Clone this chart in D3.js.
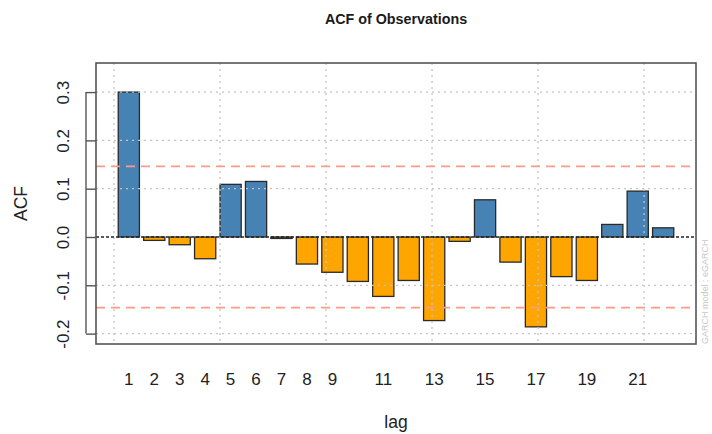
<!DOCTYPE html>
<html>
<head>
<meta charset="utf-8">
<script src="https://cdn.jsdelivr.net/npm/d3@7"></script>
<style>
  body { margin: 0; background: #fff; }
  svg { display: block; font-family: "Liberation Sans", Arial, sans-serif; }
</style>
</head>
<body>
<div id="chart"></div>
<script>
// ACF values
var lags = [1, 2, 3, 4, 5, 6, 7, 8, 9, 10, 11, 12, 13, 14, 15, 16, 17, 18, 19, 20, 21, 22];
var acfValues = [0.300, -0.007, -0.016, -0.045, 0.109, 0.115, -0.003, -0.056, -0.073, -0.092,
  -0.123, -0.090, -0.173, -0.009, 0.077, -0.052, -0.186, -0.082, -0.090, 0.026, 0.095, 0.019];
var confLimit = 0.146;
var yTicks = [-0.2, -0.1, 0.0, 0.1, 0.2, 0.3];
var xTickLabels = [1, 2, 3, 4, 5, 6, 7, 8, 9, 11, 13, 15, 17, 19, 21];
var xGrid = [0, 5, 10, 15, 20, 25];

var svgWidth = 712;
var svgHeight = 434;
var box = { left: 96, right: 696, top: 63, bottom: 344 };

var svg = d3.select("#chart")
  .append("svg")
  .attr("width", svgWidth)
  .attr("height", svgHeight);

// barplot style positions: bar k spans [0.2 + (k-1)*1.2, +1]
var barLeft = function(k) { return 0.2 + (k - 1) * 1.2; };

var xScale = d3.scaleLinear()
  .domain([-0.848, 27.448])
  .range([box.left, box.right]);

var yScale = d3.scaleLinear()
  .domain([-0.2215, 0.3602])
  .range([box.bottom, box.top]);

// bars
svg.append("g")
  .selectAll("rect")
  .data(lags)
  .enter()
  .append("rect")
  .attr("x", d => xScale(barLeft(d)))
  .attr("width", d => xScale(barLeft(d) + 1) - xScale(barLeft(d)))
  .attr("y", (d, i) => yScale(Math.max(0, acfValues[i])))
  .attr("height", (d, i) => Math.abs(yScale(acfValues[i]) - yScale(0)))
  .attr("fill", (d, i) => acfValues[i] >= 0 ? "#4682B4" : "#FFA500")
  .attr("stroke", "#2a2a2a")
  .attr("stroke-width", 1.3);

// grid (drawn over bars, like R's grid())
var grid = svg.append("g")
  .attr("stroke", "#c4c4c4")
  .attr("stroke-width", 1.3)
  .attr("stroke-dasharray", "2 4");

grid.selectAll(".hgrid")
  .data(yTicks.filter(d => d !== 0))
  .enter()
  .append("line")
  .attr("x1", box.left)
  .attr("x2", box.right)
  .attr("y1", d => yScale(d))
  .attr("y2", d => yScale(d));

grid.selectAll(".vgrid")
  .data(xGrid)
  .enter()
  .append("line")
  .attr("x1", d => xScale(d))
  .attr("x2", d => xScale(d))
  .attr("y1", box.top)
  .attr("y2", box.bottom);

// confidence limits
svg.append("g")
  .selectAll("line")
  .data([confLimit, -confLimit])
  .enter()
  .append("line")
  .attr("x1", box.left)
  .attr("x2", box.right)
  .attr("y1", d => yScale(d))
  .attr("y2", d => yScale(d))
  .attr("stroke", "#FF9a88")
  .attr("stroke-width", 1.8)
  .attr("stroke-dasharray", "9 6");

// zero line
svg.append("line")
  .attr("x1", box.left)
  .attr("x2", box.right)
  .attr("y1", yScale(0))
  .attr("y2", yScale(0))
  .attr("stroke", "#222")
  .attr("stroke-width", 1.3)
  .attr("stroke-dasharray", "3 2");

// plot box
svg.append("rect")
  .attr("x", box.left)
  .attr("y", box.top)
  .attr("width", box.right - box.left)
  .attr("height", box.bottom - box.top)
  .attr("fill", "none")
  .attr("stroke", "#555")
  .attr("stroke-width", 1.6);

// y axis
var leftAxis = d3.axisLeft(yScale)
  .tickValues(yTicks)
  .tickFormat(d3.format(".1f"))
  .tickSize(10)
  .tickPadding(0);

var yAxis = svg.append("g")
  .attr("transform", `translate(${box.left}, 0)`)
  .call(leftAxis);

yAxis.select(".domain")
  .attr("d", `M-10,${yScale(-0.2)}V${yScale(0.3)}`)
  .attr("stroke", "#555")
  .attr("stroke-width", 1.4);
yAxis.selectAll(".tick line")
  .attr("stroke", "#555")
  .attr("stroke-width", 1.4);
yAxis.selectAll(".tick text")
  .attr("x", 0)
  .attr("dy", null)
  .attr("text-anchor", "middle")
  .attr("transform", "translate(-31,0) rotate(-90)")
  .attr("dominant-baseline", "middle")
  .attr("font-size", 17)
  .attr("font-family", "Liberation Sans, Arial, sans-serif")
  .attr("fill", "#222")
  .text(d => d === 0 ? "0.0" : d3.format(".1f")(d).replace("\u2212", "-"));

// x tick labels at bar centres
svg.append("g")
  .selectAll("text")
  .data(xTickLabels)
  .enter()
  .append("text")
  .attr("x", d => xScale(barLeft(d) + 0.5))
  .attr("y", 384.5)
  .attr("text-anchor", "middle")
  .attr("font-size", 17)
  .attr("fill", "#222")
  .text(d => d);

// axis titles
svg.append("text")
  .attr("x", (box.left + box.right) / 2)
  .attr("y", 428)
  .attr("text-anchor", "middle")
  .attr("font-size", 17.5)
  .attr("fill", "#222")
  .text("lag");

svg.append("text")
  .attr("transform", `translate(27, ${(box.top + box.bottom) / 2}) rotate(-90)`)
  .attr("text-anchor", "middle")
  .attr("font-size", 17.5)
  .attr("fill", "#222")
  .text("ACF");

// title
svg.append("text")
  .attr("x", (box.left + box.right) / 2)
  .attr("y", 24)
  .attr("text-anchor", "middle")
  .attr("font-size", 14.3)
  .attr("font-weight", "bold")
  .attr("fill", "#1a1a1a")
  .text("ACF of Observations");

// watermark
svg.append("text")
  .attr("transform", `translate(708, ${box.bottom}) rotate(-90)`)
  .attr("text-anchor", "start")
  .attr("font-size", 9)
  .attr("fill", "#c8c8c8")
  .text("GARCH model : eGARCH");
</script>
</body>
</html>
